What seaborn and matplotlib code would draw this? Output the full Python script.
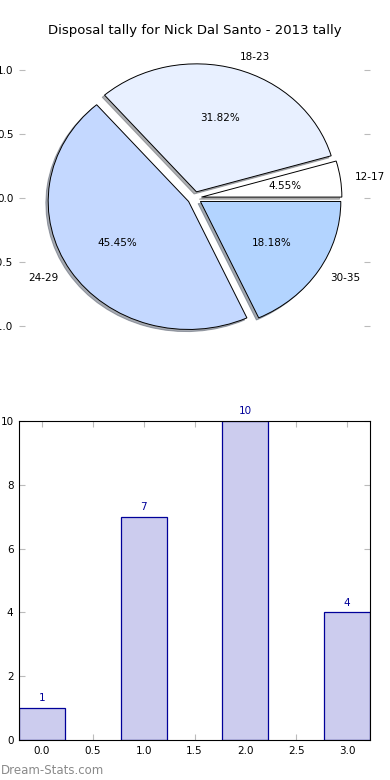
import matplotlib
matplotlib.use("Agg")
import matplotlib.pyplot as plt
import seaborn as sns
import pandas as pd

# disposal ranges and how many games fell into each one
ranges = ["12-17", "18-23", "24-29", "30-35"]
games = [1, 7, 10, 4]
pie_colors = ["#ffffff", "#e8f0ff", "#c4d8ff", "#b3d4ff"]
bar_pos = [0, 1, 2, 3]

sns.set_style("white")
plt.rcParams["font.family"] = ["DejaVu Sans"]
plt.rcParams["text.color"] = "black"
plt.rcParams["xtick.labelcolor"] = "black"
plt.rcParams["ytick.labelcolor"] = "black"

fig = plt.figure(figsize=(3.9, 7.8), dpi=100)

# pie of the share of games per disposal range
ax1 = fig.add_axes([19 / 390, 422 / 780, 351 / 390, 320 / 780])
ax1.pie(
    games,
    labels=ranges,
    colors=pie_colors,
    explode=[0.05] * 4,
    autopct="%1.2f%%",
    shadow={"ox": -0.012, "oy": -0.012, "shade": 0.6},
    startangle=0,
    labeldistance=1.1,
    wedgeprops={"edgecolor": "black", "linewidth": 0.7},
    textprops={"fontsize": 7.5, "color": "black"},
)
ax1.set_aspect("auto")
ax1.set_xlim(-1.25, 1.25)
ax1.set_ylim(-1.25, 1.25)
ax1.set_xticks([])
ax1.set_yticks([-1.0, -0.5, 0.0, 0.5, 1.0])
ax1.yaxis.set_ticks_position("both")
ax1.tick_params(axis="y", direction="in", length=4, color="#bbbbbb", labelsize=7.5, pad=4)
for s in ax1.spines.values():
    s.set_visible(False)
ax1.set_title("Disposal tally for Nick Dal Santo - 2013 tally", fontsize=9.5, pad=3, color="black")

# bar chart of the raw counts
ax2 = fig.add_axes([19 / 390, 40 / 780, 351 / 390, 319 / 780])
df = pd.DataFrame({"pos": bar_pos, "games": games})
sns.barplot(data=df, x="pos", y="games", native_scale=True, width=0.45,
            color="#ccccee", saturation=1, edgecolor="#000099", linewidth=0.9, ax=ax2)
ax2.set_xlim(-0.225, 3.225)
ax2.set_ylim(0, 10)
ax2.set_xticks([0.0, 0.5, 1.0, 1.5, 2.0, 2.5, 3.0])
ax2.set_xticklabels(["0.0", "0.5", "1.0", "1.5", "2.0", "2.5", "3.0"])
ax2.set_yticks([0, 2, 4, 6, 8, 10])
ax2.set_xlabel("")
ax2.set_ylabel("")
ax2.xaxis.set_ticks_position("both")
ax2.yaxis.set_ticks_position("both")
ax2.tick_params(direction="in", length=4, color="#bbbbbb", labelsize=7.5, pad=4)
for s in ax2.spines.values():
    s.set_visible(True)
    s.set_color("black")
    s.set_linewidth(0.8)
for x, v in zip(bar_pos, games):
    ax2.text(x, v + 0.15, str(v), ha="center", va="bottom", fontsize=7.5, color="#000099")

fig.text(0.003, 0.012, "Dream-Stats.com", fontsize=8.5, color="#8a8a8a", ha="left", va="center")

fig.savefig("out.png", dpi=100)
